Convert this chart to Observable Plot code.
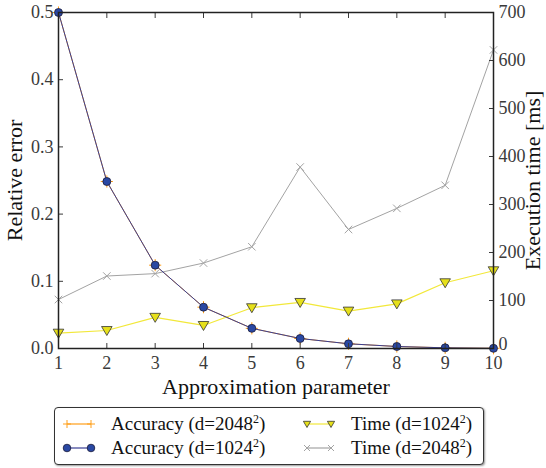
<!DOCTYPE html>
<html>
<head>
<meta charset="utf-8">
<script src="https://cdn.jsdelivr.net/npm/d3@7"></script>
<script src="https://cdn.jsdelivr.net/npm/@observablehq/plot@0.6"></script>
<style>
  body { margin: 0; background: #fff; font-family: "Liberation Serif", serif; }
  #chart svg { overflow: visible; }
  #chart svg text { font-family: "Liberation Serif", serif; }
  #legend {
    position: absolute; left: 54px; top: 407px; width: 428px; height: 56px;
    border: 1px solid #333; border-radius: 4px; box-shadow: 1px 1px 2px #999;
    background: #fff; font-size: 19px; color: #111;
  }
  .item { position: absolute; display: flex; align-items: center; height: 22px; }
  .item svg { margin-right: 15px; }
</style>
</head>
<body>
<div id="chart"></div>
<div id="legend"></div>
<script>
const params = [1, 2, 3, 4, 5, 6, 7, 8, 9, 10];
const accuracy1024 = [0.5, 0.2485, 0.124, 0.0615, 0.030, 0.0149, 0.007, 0.003, 0.001, 0.0003];
const accuracy2048 = [0.5, 0.2485, 0.124, 0.0615, 0.030, 0.0149, 0.007, 0.003, 0.001, 0.0003];
const time1024 = [32, 37.5, 65, 48, 85, 96, 78, 93, 137, 162];
const time2048 = [102, 151, 156, 178, 212, 378, 248, 292, 340, 622];
const leftTicks = [0, 0.1, 0.2, 0.3, 0.4, 0.5];
const rightTicks = [0, 100, 200, 300, 400, 500, 600, 700];
const seriesNames = ["Accuracy (d=2048²)", "Accuracy (d=1024²)", "Time (d=1024²)", "Time (d=2048²)"];

const timeMax = 700, errMax = 0.5;
const toLeft = t => t / timeMax * errMax;

const acc1024 = params.map((p, i) => ({x: p, y: accuracy1024[i]}));
const acc2048 = params.map((p, i) => ({x: p, y: accuracy2048[i]}));
const t1024 = params.map((p, i) => ({x: p, y: toLeft(time1024[i])}));
const t2048 = params.map((p, i) => ({x: p, y: toLeft(time2048[i])}));

const triangleDown = {
  draw(context, size) {
    const r = Math.sqrt(size / 1.3);
    context.moveTo(-r, -r * 0.75);
    context.lineTo(r, -r * 0.75);
    context.lineTo(0, r * 0.95);
    context.closePath();
  }
};

const font = "Liberation Serif, serif";
const colors = {orange: "#ff9f1a", blue: "#3a3f94", blueFill: "#2a48a3", yellow: "#f2e83a", yellowFill: "#e6e01a", gray: "#a3a3a3"};

const chart = Plot.plot({
  width: 546,
  height: 400,
  marginLeft: 58,
  marginRight: 53,
  marginTop: 12,
  marginBottom: 52,
  style: {fontFamily: font, fontSize: "18px", color: "#3a3a3a", background: "white"},
  x: {domain: [1, 10]},
  y: {domain: [0, errMax]},
  marks: [
    Plot.line(acc2048, {x: "x", y: "y", stroke: colors.orange, strokeWidth: 1}),
    Plot.dot(acc2048, {x: "x", y: "y", symbol: "plus", stroke: colors.orange, r: 4, strokeWidth: 1}),
    Plot.line(t2048, {x: "x", y: "y", stroke: colors.gray, strokeWidth: 1}),
    Plot.dot(t2048, {x: "x", y: "y", symbol: "times", stroke: colors.gray, r: 3.5, strokeWidth: 1}),
    Plot.line(t1024, {x: "x", y: "y", stroke: colors.yellow, strokeWidth: 1.2}),
    Plot.dot(t1024, {x: "x", y: "y", symbol: triangleDown, fill: colors.yellowFill, stroke: "#333", r: 3.4, strokeWidth: 0.8}),
    Plot.line(acc1024, {x: "x", y: "y", stroke: colors.blue, strokeWidth: 1}),
    Plot.dot(acc1024, {x: "x", y: "y", symbol: "circle", fill: colors.blueFill, stroke: "#1a1a3a", r: 4, strokeWidth: 0.8}),
    Plot.axisX({anchor: "bottom", ticks: params, tickSize: -5, tickPadding: 13, tickFormat: d => String(d), label: "Approximation parameter", labelAnchor: "center", labelArrow: "none", labelOffset: 45, fontSize: 18, fontFamily: font}),
    Plot.axisX({anchor: "top", ticks: params, tickSize: -5, tickFormat: () => "", label: null}),
    Plot.axisY({anchor: "left", ticks: leftTicks, tickSize: -5, tickPadding: 10, tickFormat: d => d.toFixed(1), label: "Relative error", labelAnchor: "center", labelArrow: "none", labelOffset: 52, fontSize: 18, fontFamily: font}),
    Plot.axisY({anchor: "right", ticks: rightTicks.map(toLeft), tickSize: -5, tickPadding: 10, tickFormat: d => String(Math.round(d / errMax * timeMax)), label: "Execution time [ms]", labelAnchor: "center", labelArrow: "none", labelOffset: 46, fontSize: 18, fontFamily: font}),
    Plot.frame({stroke: "#222", strokeWidth: 1.5})
  ]
});
chart.querySelectorAll("[aria-label$='axis label']").forEach(el => { el.setAttribute("fill", "#111"); el.style.fontSize = "22px"; });
// nudge the right-axis "0" label up slightly so it does not sit on top of the x "10"
const yTickGroups = chart.querySelectorAll("[aria-label='y-axis tick label']");
if (yTickGroups.length > 1) {
  yTickGroups[yTickGroups.length - 1].querySelectorAll("text").forEach(t => {
    if (t.textContent === "0") t.setAttribute("dy", String((parseFloat(t.getAttribute("dy")) || 0) - 4));
  });
}
document.getElementById("chart").appendChild(chart);

// Legend
const legend = document.getElementById("legend");
const legendItems = [
  {name: seriesNames[0], left: 7, top: 5, stroke: colors.orange, mark: "plus"},
  {name: seriesNames[1], left: 7, top: 29, stroke: colors.blue, mark: "circle"},
  {name: seriesNames[2], left: 247, top: 5, stroke: colors.yellow, mark: "tri"},
  {name: seriesNames[3], left: 247, top: 29, stroke: colors.gray, mark: "times"}
];
function markerSvg(kind, cx, cy) {
  if (kind === "plus") return `<path d="M${cx-4},${cy}h8M${cx},${cy-4}v8" stroke="${colors.orange}" stroke-width="1"/>`;
  if (kind === "circle") return `<circle cx="${cx}" cy="${cy}" r="3.8" fill="${colors.blueFill}" stroke="#1a1a3a" stroke-width="0.8"/>`;
  if (kind === "tri") return `<path d="M${cx-3.6},${cy-2.7}h7.2l-3.6,6.2z" fill="${colors.yellowFill}" stroke="#333" stroke-width="0.8"/>`;
  return `<path d="M${cx-3},${cy-3}l6,6M${cx-3},${cy+3}l6,-6" stroke="${colors.gray}" stroke-width="1"/>`;
}
legendItems.forEach(it => {
  const div = document.createElement("div");
  div.className = "item";
  div.style.left = it.left + "px";
  div.style.top = it.top + "px";
  const [pre] = it.name.split("²");
  div.innerHTML = `<svg width="34" height="12"><line x1="5" y1="6" x2="29" y2="6" stroke="${it.stroke}" stroke-width="1.2"/>${markerSvg(it.mark, 5, 6)}${markerSvg(it.mark, 29, 6)}</svg><span>${pre}<sup style="font-size:12px">2</sup>)</span>`;
  legend.appendChild(div);
});
</script>
</body>
</html>
